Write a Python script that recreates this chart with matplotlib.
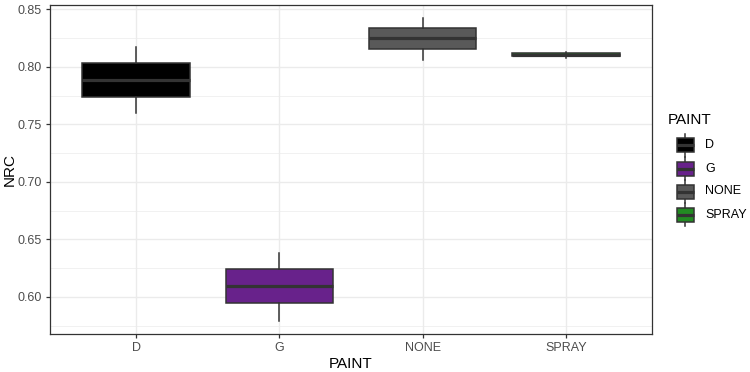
import matplotlib
matplotlib.use("Agg")
import matplotlib.pyplot as plt
from matplotlib.patches import Rectangle
from matplotlib.lines import Line2D

plt.rcParams['font.family'] = ['Liberation Sans', 'DejaVu Sans']

categories = ["D", "G", "NONE", "SPRAY"]
whisker_low = [0.7603, 0.5794, 0.8061, 0.8078]
q1 = [0.7742, 0.5950, 0.8154, 0.8096]
median = [0.7887, 0.6096, 0.8250, 0.8107]
q3 = [0.8032, 0.6241, 0.8337, 0.8118]
whisker_high = [0.8177, 0.6385, 0.8429, 0.8132]
fill_colors = ["#000000", "#68228B", "#595959", "#228B22"]
y_ticks = [0.60, 0.65, 0.70, 0.75, 0.80, 0.85]

W, H = 750, 372
fig = plt.figure(figsize=(7.5, 3.72), dpi=100)
ax = fig.add_axes([50 / W, 1 - 334 / H, (652 - 50) / W, (334 - 5) / H])

stats = []
for i, c in enumerate(categories):
    stats.append(dict(label=c, whislo=whisker_low[i], q1=q1[i], med=median[i],
                      q3=q3[i], whishi=whisker_high[i], fliers=[]))
positions = list(range(1, len(categories) + 1))
bp = ax.bxp(stats, positions=positions, widths=0.75, patch_artist=True,
            showcaps=False, zorder=3,
            boxprops=dict(edgecolor="#333333", linewidth=1.1),
            medianprops=dict(color="#333333", linewidth=2.3, solid_capstyle="butt"),
            whiskerprops=dict(color="#333333", linewidth=1.1))
for patch, col in zip(bp["boxes"], fill_colors):
    patch.set_facecolor(col)

ax.set_xlim(0.4, 4.6)
ax.set_ylim(0.5678, 0.8539)
ax.set_yticks(y_ticks)
ax.set_yticklabels([f"{v:.2f}" for v in y_ticks])
ax.set_yticks([v + 0.025 for v in y_ticks[:-1]] + [0.575], minor=True)
ax.set_xticks(positions)
ax.set_xticklabels(categories)

ax.grid(which="major", color="#EBEBEB", linewidth=1.0, zorder=0)
ax.grid(which="minor", axis="y", color="#EBEBEB", linewidth=0.5, zorder=0)
ax.set_axisbelow(True)
for s in ax.spines.values():
    s.set_color("#333333")
    s.set_linewidth(0.9)
ax.tick_params(which="major", length=3, width=0.9, color="#333333",
               labelsize=9, labelcolor="#4D4D4D", pad=3)
ax.tick_params(which="minor", length=0)
ax.set_xlabel("PAINT", fontsize=11, color="black", labelpad=2)
fig.text(10 / W, 1 - 170 / H, "NRC", fontsize=11, color="black",
         rotation=90, ha="center", va="center")

# legend drawn in pixel coordinates
lax = fig.add_axes([0, 0, 1, 1])
lax.set_xlim(0, W)
lax.set_ylim(H, 0)
lax.axis("off")
lax.text(668, 120, "PAINT", fontsize=11, va="center", ha="left", color="black")
key_y = [145, 168.5, 191.5, 214.5]
for yc, col, lab in zip(key_y, fill_colors, categories):
    lax.add_line(Line2D([685, 685], [yc - 11.5, yc + 11.5], color="#333333", lw=1.1))
    lax.add_patch(Rectangle((677, yc - 7), 16.5, 14, facecolor=col,
                            edgecolor="#333333", lw=1.1, zorder=3))
    lax.add_line(Line2D([677, 693.5], [yc, yc], color="#333333", lw=2.3,
                        solid_capstyle="butt", zorder=4))
    lax.text(705, yc, lab, fontsize=9, va="center", ha="left", color="black")

fig.savefig("out.png", dpi=100, facecolor="white")
